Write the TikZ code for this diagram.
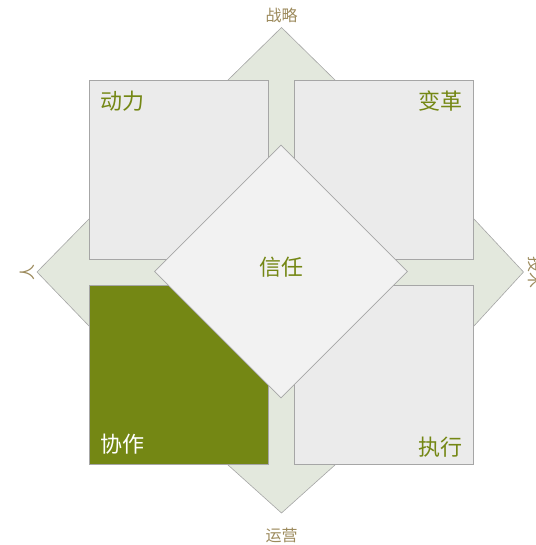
\documentclass[tikz,border=0pt]{standalone}
\usepackage{fontspec}
\setmainfont{Noto Sans CJK SC}
\usetikzlibrary{positioning,shapes.geometric}
\definecolor{leafgreen}{HTML}{748714}
\definecolor{quadgray}{HTML}{EBEBEB}
\definecolor{edgegray}{HTML}{A6A6A6}
\definecolor{crossfill}{HTML}{E3E8DD}
\definecolor{sandbrown}{HTML}{9C8A5C}
\begin{document}
\begin{tikzpicture}[x=1pt, y=-1pt,
    quad/.style={draw=edgegray, fill=quadgray, line width=0.6pt, minimum size=179pt, inner sep=0pt},
    quadtext/.style={text=leafgreen, font=\fontsize{22}{22}\selectfont, inner sep=0pt},
    sidetext/.style={text=sandbrown, font=\fontsize{16}{16}\selectfont, inner sep=0pt}]
    \useasboundingbox (0,0) rectangle (535,545);

    % Arrow cross (back)
    \coordinate (tipN) at (281.5,27.5);
    \coordinate (tipS) at (281.5,513);
    \coordinate (tipW) at (37,272);
    \coordinate (tipE) at (523.5,272);
    \draw[draw=edgegray, fill=crossfill, line width=0.6pt]
        (tipN) -- (335.5,80.5) -- (294.5,80.5) -- (294.5,259.5) -- (473.5,259.5) -- (473.5,218.5)
        -- (tipE) -- (473.5,326.5) -- (473.5,285.5) -- (294.5,285.5) -- (294.5,464.5) -- (335.5,464.5)
        -- (tipS) -- (227.5,464.5) -- (268.5,464.5) -- (268.5,285.5) -- (89.5,285.5) -- (89.5,326.5)
        -- (tipW) -- (89.5,218.5) -- (89.5,259.5) -- (268.5,259.5) -- (268.5,80.5) -- (227.5,80.5) -- cycle;

    % Labels at the arrow tips
    \node[sidetext, above=4.5pt of tipN] (zhanlue) {战略};
    \node[sidetext, below=15pt of tipS] (yunying) {运营};
    \node[sidetext, rotate=90, anchor=south] (ren) at ([xshift=-2pt]tipW) {人};
    \node[sidetext, rotate=-90, anchor=south] (jishu) at ([xshift=4pt]tipE) {技术};

    % Four quadrants
    \node[quad] (dongli) at (179,170) {};
    \node[quad] (biange) at (384,170) {};
    \node[quad, fill=leafgreen] (xiezuo) at (179,375) {};
    \node[quad] (zhixing) at (384,375) {};

    \node[quadtext, anchor=north west] (dongliT) at ([shift={(11pt,-11pt)}]dongli.north west) {动力};
    \node[quadtext, anchor=north east] (biangeT) at ([shift={(-11pt,-10pt)}]biange.north east) {变革};
    \node[quadtext, anchor=south west, text=white] (xiezuoT) at ([shift={(11pt,10pt)}]xiezuo.south west) {协作};
    \node[quadtext, anchor=south east] (zhixingT) at ([shift={(-11pt,7pt)}]zhixing.south east) {执行};

    % Centre diamond
    \node[diamond, draw=edgegray, fill=black!5, line width=0.6pt, minimum width=253pt, minimum height=253pt,
          inner sep=0pt] (xinren) at (281,271.5) {};
    \node[quadtext] (xinrenT) at ([yshift=4pt]xinren.center) {信任};
\end{tikzpicture}
\end{document}
